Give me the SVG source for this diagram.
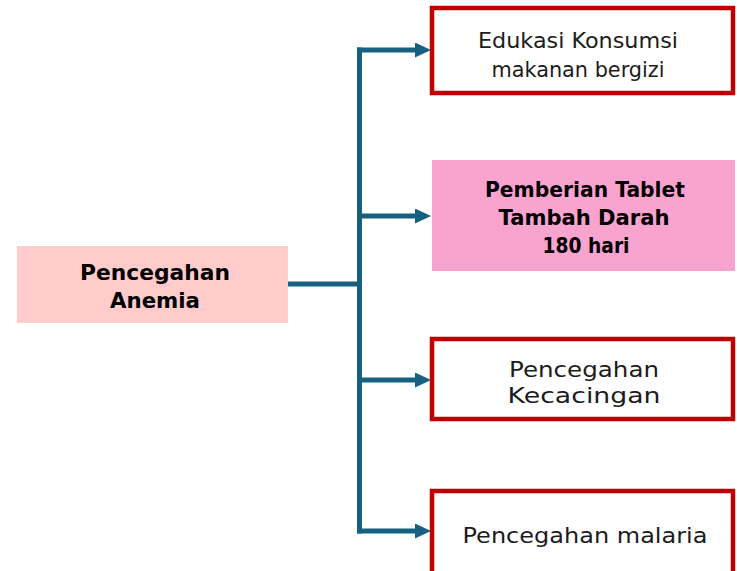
<svg xmlns="http://www.w3.org/2000/svg" width="737" height="571" viewBox="0 0 737 571">
  <style>
    .bg { fill: #ffffff; }
    .box { fill: #ffffff; stroke: #C00000; stroke-width: 4.5; }
    .pink { fill: #F9A3CF; }
    .root { fill: #FFCBCB; }
    .t { font-family: "DejaVu Sans", "Liberation Sans", sans-serif; font-size: 22px; fill: #1c1c1c; text-anchor: middle; }
    .b { font-family: "DejaVu Sans", "Liberation Sans", sans-serif; font-size: 22px; font-weight: bold; fill: #000000; text-anchor: middle; }
    .wire { stroke: #17607F; stroke-width: 5; fill: none; }
  </style>
  <defs>
    <marker id="arrow" markerUnits="userSpaceOnUse" markerWidth="16" markerHeight="15" refX="5" refY="7.5" orient="auto">
      <path d="M0,0 L16,7.5 L0,15 z" fill="#17607F"/>
    </marker>
  </defs>

  <rect class="bg" x="0" y="0" width="737" height="571"/>

  <!-- connectors -->
  <g id="connectors">
    <line class="wire" x1="288" y1="284" x2="362" y2="284"/>
    <line class="wire" x1="359.5" y1="47.5" x2="359.5" y2="533.5"/>
    <line class="wire" x1="357" y1="50" x2="420" y2="50" marker-end="url(#arrow)"/>
    <line class="wire" x1="357" y1="216" x2="420" y2="216" marker-end="url(#arrow)"/>
    <line class="wire" x1="357" y1="380" x2="420" y2="380" marker-end="url(#arrow)"/>
    <line class="wire" x1="357" y1="531" x2="420" y2="531" marker-end="url(#arrow)"/>
  </g>

  <!-- root node -->
  <g id="node-anemia">
    <rect class="root" x="17" y="246" width="271" height="77"/>
    <text class="b" x="155" y="280" textLength="150" lengthAdjust="spacingAndGlyphs">Pencegahan</text>
    <text class="b" x="155" y="308" textLength="90" lengthAdjust="spacingAndGlyphs">Anemia</text>
  </g>

  <!-- branch nodes -->
  <g id="node-edukasi">
    <rect class="box" x="432" y="8" width="301" height="85"/>
    <text class="t" x="578" y="48" textLength="200" lengthAdjust="spacingAndGlyphs">Edukasi Konsumsi</text>
    <text class="t" x="578" y="77" textLength="173" lengthAdjust="spacingAndGlyphs">makanan bergizi</text>
  </g>

  <g id="node-ttd">
    <rect class="pink" x="432" y="160" width="303" height="111"/>
    <text class="b" x="585" y="197" textLength="200" lengthAdjust="spacingAndGlyphs">Pemberian Tablet</text>
    <text class="b" x="584" y="225" textLength="171" lengthAdjust="spacingAndGlyphs">Tambah Darah</text>
    <text class="b" x="586" y="253" textLength="87" lengthAdjust="spacingAndGlyphs">180 hari</text>
  </g>

  <g id="node-kecacingan">
    <rect class="box" x="432" y="339" width="301" height="80"/>
    <text class="t" x="584" y="377" textLength="150" lengthAdjust="spacingAndGlyphs">Pencegahan</text>
    <text class="t" x="584" y="403" textLength="153" lengthAdjust="spacingAndGlyphs">Kecacingan</text>
  </g>

  <g id="node-malaria">
    <rect class="box" x="432" y="491" width="301" height="100"/>
    <text class="t" x="585" y="543" textLength="245" lengthAdjust="spacingAndGlyphs">Pencegahan malaria</text>
  </g>
</svg>
